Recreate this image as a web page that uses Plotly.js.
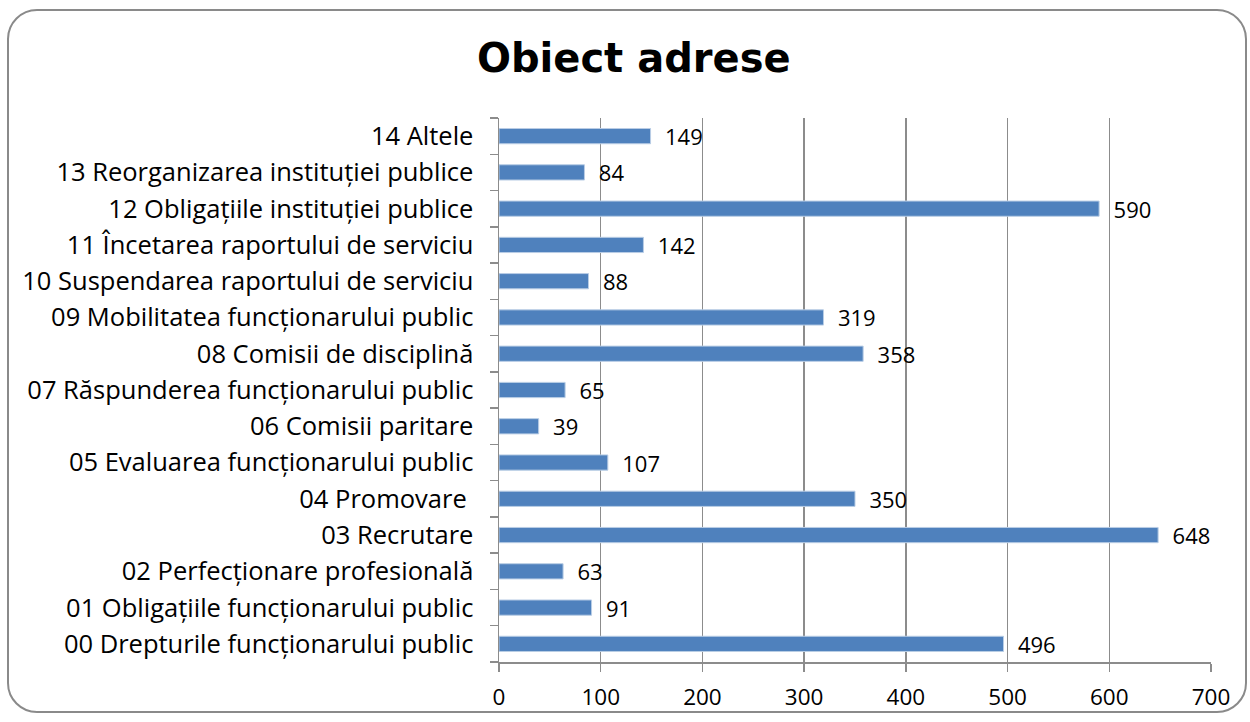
<!DOCTYPE html>
<html>
<head>
<meta charset="utf-8">
<script src="https://cdn.plot.ly/plotly-3.0.1.min.js"></script>
<style>
html,body{margin:0;padding:0;background:#fff;}
#frame{position:absolute;left:7px;top:9px;width:1240px;height:704px;border:2px solid #8a8a8a;border-radius:30px;box-sizing:border-box;}
#chart{position:absolute;left:0;top:0;width:1250px;height:722px;}
</style>
</head>
<body>
<div id="frame"></div>
<div id="chart"></div>
<script>
const categories = [
  "00 Drepturile funcționarului public",
  "01 Obligațiile funcționarului public",
  "02 Perfecționare profesională",
  "03 Recrutare",
  "04 Promovare ",
  "05 Evaluarea funcționarului public",
  "06 Comisii paritare",
  "07 Răspunderea funcționarului public",
  "08 Comisii de disciplină",
  "09 Mobilitatea funcționarului public",
  "10 Suspendarea raportului de serviciu",
  "11 Încetarea raportului de serviciu",
  "12 Obligațiile instituției publice",
  "13 Reorganizarea instituției publice",
  "14 Altele"
];
const values = [496, 91, 63, 648, 350, 107, 39, 65, 358, 319, 88, 142, 590, 84, 149];
const xTicks = [0, 100, 200, 300, 400, 500, 600, 700];
const titleText = "Obiect adrese";

const FONT = 'Open Sans, DejaVu Sans, sans-serif';

const trace = {
  type: 'bar',
  orientation: 'h',
  y: categories,
  x: values,
  marker: {color: '#4f81bd', line: {color: '#b9cde5', width: 1}},
  text: values.map(v => '  ' + v),
  textposition: 'outside',
  constraintext: 'none',
  cliponaxis: false,
  textfont: {family: FONT, size: 22, color: '#000'},
  hoverinfo: 'none'
};

const layout = {
  width: 1250, height: 722,
  paper_bgcolor: 'rgba(0,0,0,0)',
  plot_bgcolor: 'rgba(0,0,0,0)',
  margin: {l: 499, r: 39, t: 118, b: 60},
  bargap: 0.58,
  showlegend: false,
  title: {text: titleText, x: 0.507, xanchor: 'center', y: 0.92, yanchor: 'middle',
          font: {family: 'DejaVu Sans, sans-serif', size: 40, color: '#000', weight: 'bold'}},
  xaxis: {
    range: [0, 700], tickvals: xTicks, ticktext: xTicks.map(String),
    showgrid: true, gridcolor: '#8c8c8c', gridwidth: 1.5,
    showline: true, linecolor: '#8c8c8c', linewidth: 1.5,
    ticks: 'outside', ticklen: 8, tickcolor: '#8c8c8c', tickwidth: 1.5,
    ticklabelstandoff: 6,
    zeroline: false, fixedrange: true,
    tickfont: {family: FONT, size: 22.5, color: '#000'}
  },
  yaxis: {
    type: 'category', tickson: 'boundaries',
    showline: true, linecolor: '#8c8c8c', linewidth: 1.5,
    ticks: 'outside', ticklen: 8, tickcolor: '#8c8c8c', tickwidth: 1.5,
    showgrid: false, zeroline: false, fixedrange: true,
    ticklabelstandoff: 19,
    tickfont: {family: FONT, size: 25.5, color: '#000'}
  }
};

Plotly.newPlot('chart', [trace], layout, {displayModeBar: false, staticPlot: true});
</script>
</body>
</html>
